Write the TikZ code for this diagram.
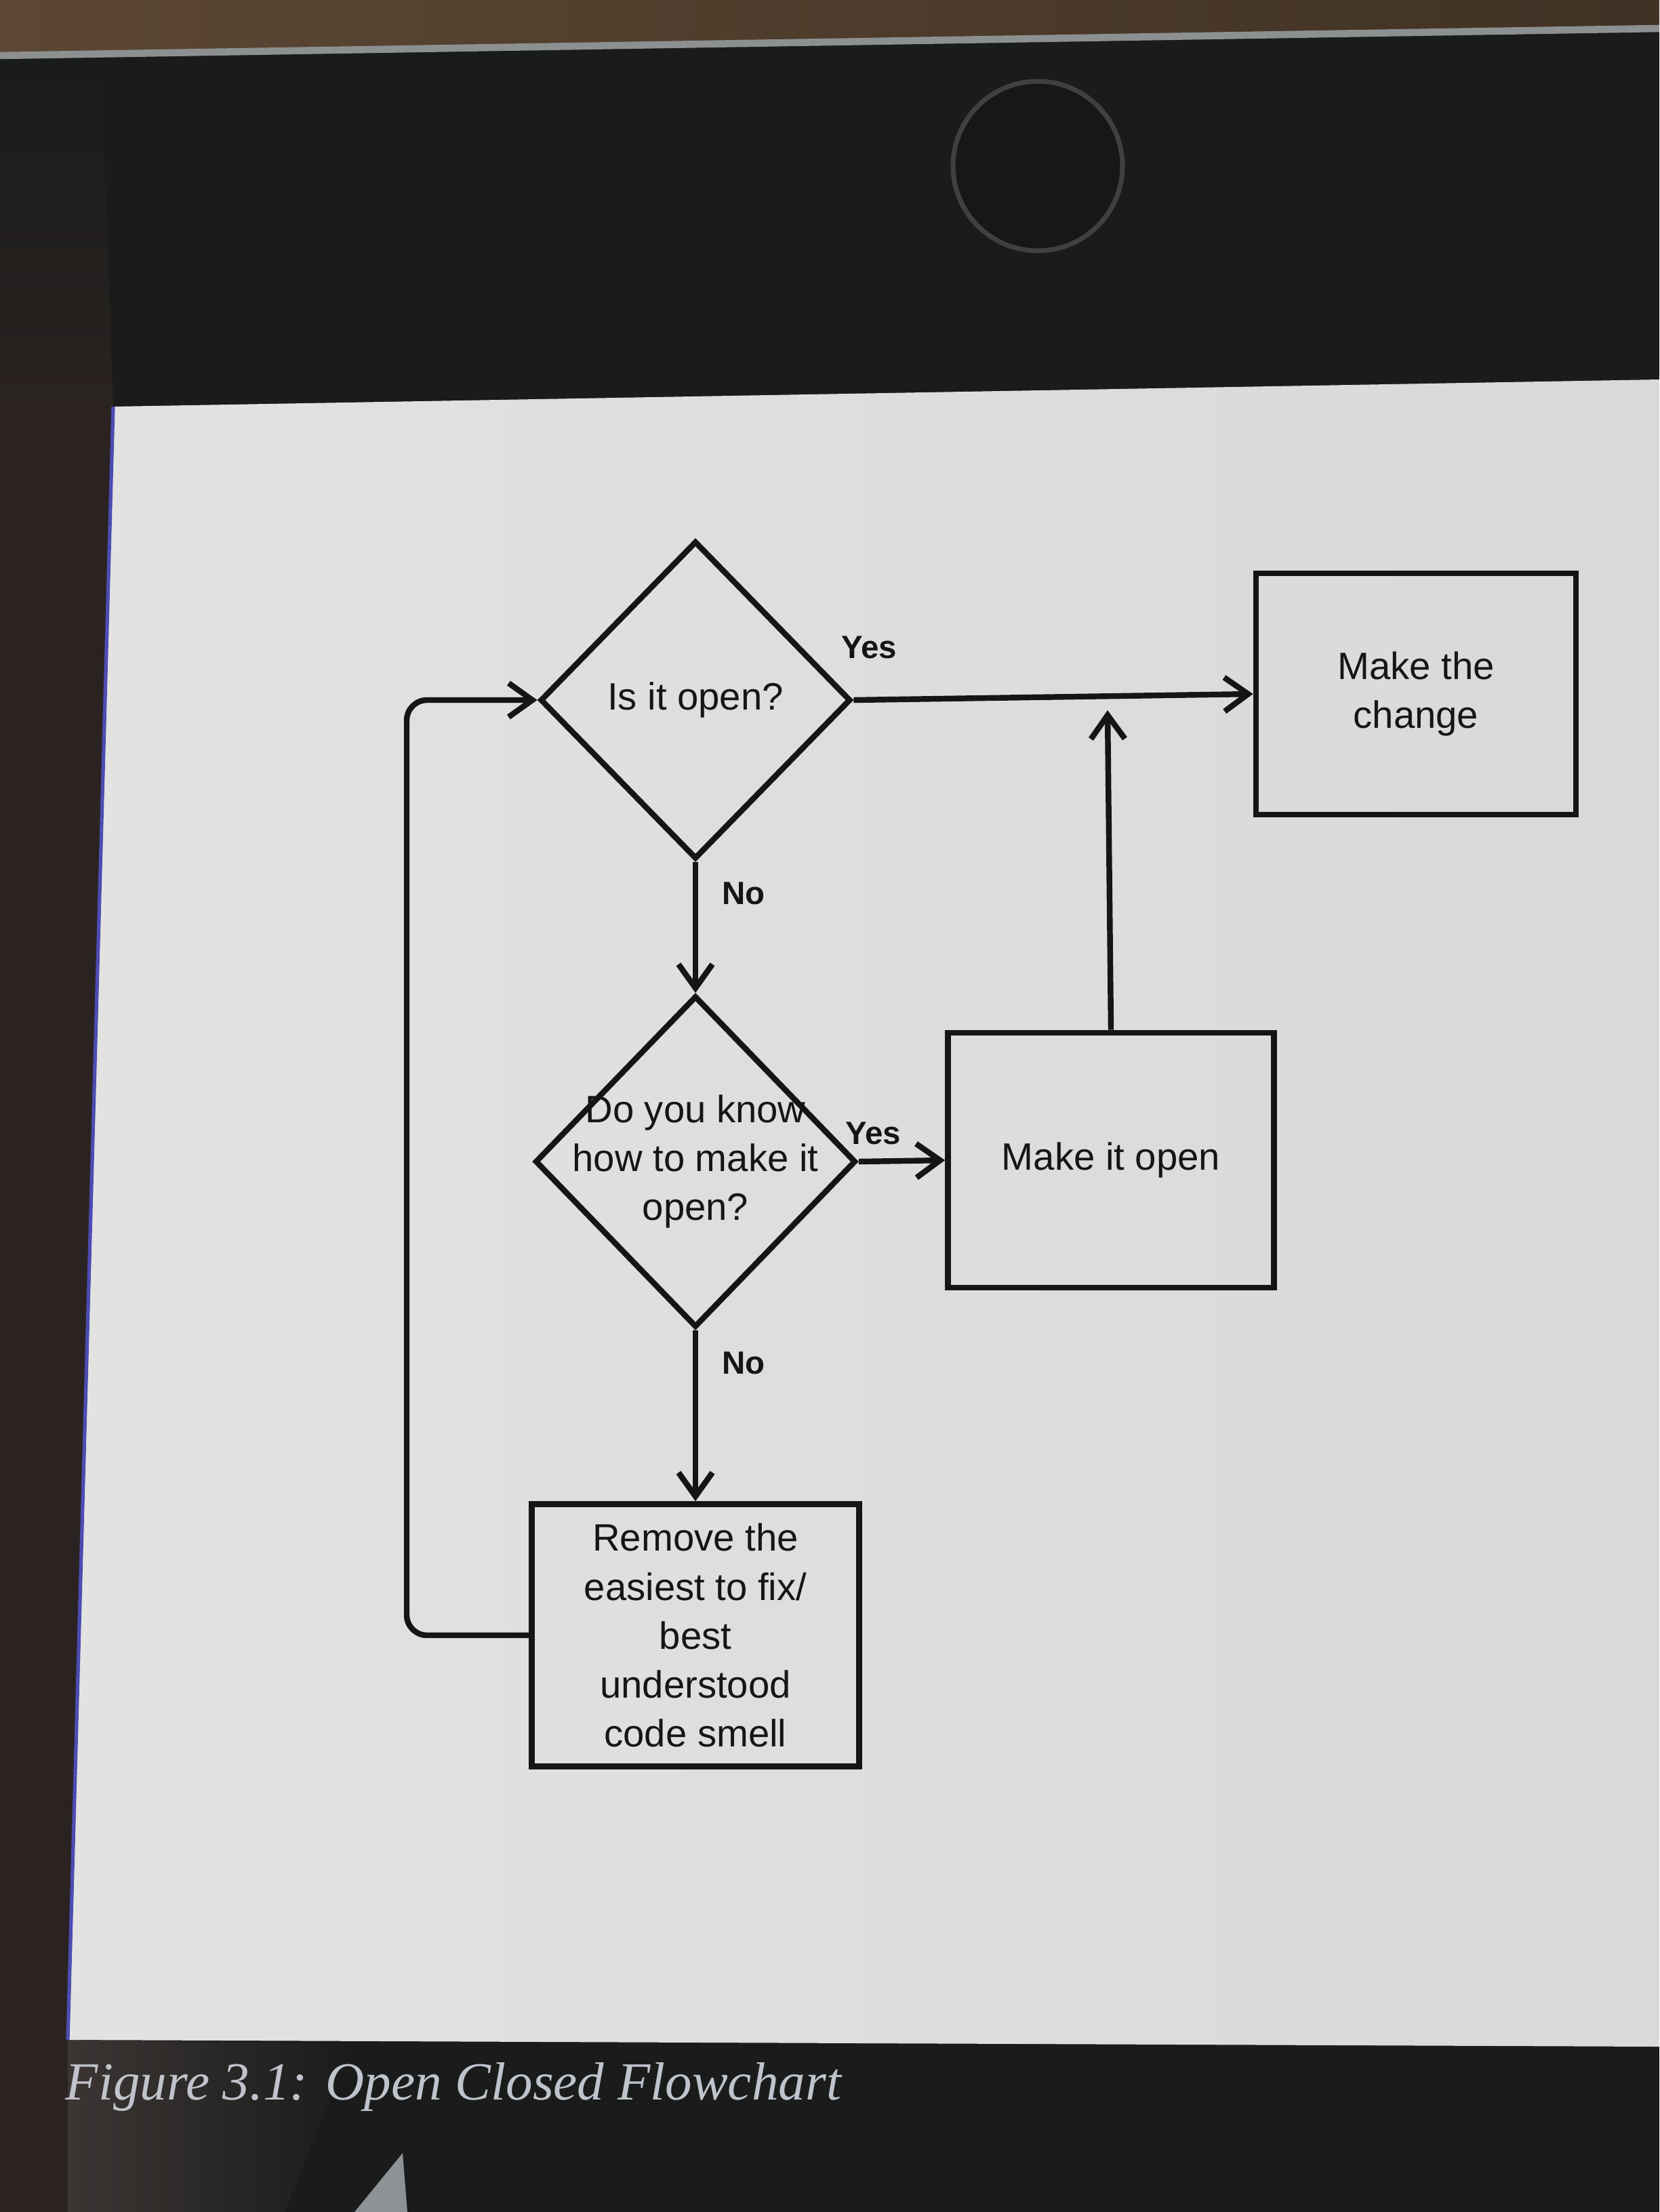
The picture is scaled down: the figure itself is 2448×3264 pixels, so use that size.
\documentclass[tikz,border=0pt]{standalone}
\usepackage{fontspec}
\setmainfont{Liberation Serif}
\setsansfont{Liberation Sans}
\usepackage{tikz}
\usetikzlibrary{arrows.meta}
\usetikzlibrary{shapes.geometric}
\usetikzlibrary{positioning}

\definecolor{bezel}{HTML}{1A1C1B}
\definecolor{wood}{HTML}{5C4734}
\definecolor{rim}{HTML}{8C9090}
\definecolor{side}{HTML}{2A2321}
\definecolor{panelL}{HTML}{E2E3E1}
\definecolor{panelR}{HTML}{D9DAD8}
\definecolor{ink}{HTML}{151515}
\definecolor{captext}{HTML}{C0C3CB}
\definecolor{glare}{HTML}{8E9196}

\begin{document}
\begin{tikzpicture}[
	x=0.01cm, y=-0.01cm,
  > = {Straight Barb[length=3.5mm,width=5mm]},
  every node/.style = {font=\sffamily\fontsize{16}{20.5}\selectfont, text=ink},
  flow/.style = {draw=ink, line width=2.4pt},
  decision/.style = {flow, diamond, aspect=1, inner sep=0pt, align=center},
  process/.style = {flow, rectangle, inner sep=0pt, align=center},
  lbl/.style = {font=\sffamily\bfseries\fontsize{13.5}{16}\selectfont},
  caption/.style = {font=\rmfamily\itshape\fontsize{22.5}{28}\selectfont, text=captext}
  ]
	\useasboundingbox (0,0) rectangle (2448,3264);

	% screen and its surroundings
	\fill[bezel] (0,0) rectangle (2448,3264);
	\shade[left color=wood, right color=wood!70!black] (0,0) -- (2448,0) -- (2448,40) -- (0,80) -- cycle;
	\draw[rim, line width=3pt] (0,82) -- (2448,42);
	\shade[top color=bezel, bottom color=side] (0,110) -- (150,110) -- (167,600) -- (0,600) -- cycle;
	\fill[side] (0,600) -- (167,600) -- (100,3264) -- (0,3264) -- cycle;
	\shade[left color=side!80!gray, right color=bezel] (100,3010) -- (520,3015) -- (420,3264) -- (100,3264) -- cycle;
	\filldraw[fill=bezel!85!black, draw=black!75, line width=2pt] (1531,245) circle (125);
	\shade[left color=panelL, right color=panelR] (167,600) -- (2448,560) -- (2448,3020) -- (100,3010) -- cycle;
	\draw[blue!40!gray, line width=1.5pt] (167,600) -- (100,3010);
	\fill[glare] (523,3264) -- (594,3177) -- (601,3264) -- cycle;

	\node[caption, anchor=base west, inner sep=0pt] (cap) at (96,3098) {Figure 3.1: Open Closed Flowchart};

	% flowchart
	\node[decision, minimum width=4.58cm, minimum height=4.69cm] (isopen) at (1026,1033) {Is it open?};
	\node[process, minimum width=4.72cm, minimum height=3.56cm] (change) at (2089,1024) {Make the\\change};
	\node[decision, minimum width=4.73cm, minimum height=4.89cm,
		label={[align=center]center:Do you know\\how to make it\\open?}] (knowhow) at (1026,1714) {};
	\node[process, minimum width=4.81cm, minimum height=3.76cm] (makeopen) at (1639,1712) {Make it open};
	\node[process, minimum width=4.83cm, minimum height=3.87cm] (remove) at (1026,2413)
		{Remove the\\easiest to fix/\\best\\understood\\code smell};

	\coordinate (merge) at (1634,1048);
	\coordinate (loop) at (600,1033);

	\node[lbl] (yes1) at (1282,955) {Yes};
	\node[lbl] (no1) at (1097,1318) {No};
	\node[lbl] (yes2) at (1288,1672) {Yes};
	\node[lbl] (no2) at (1097,2011) {No};

	\draw[flow,->] (isopen.east) -- (change.west);
	\draw[flow,->] (isopen.south) -- (knowhow.north);
	\draw[flow,->] (knowhow.east) -- (makeopen.west);
	\draw[flow,->] (knowhow.south) -- (remove.north);
	\draw[flow,->] (makeopen.north) -- (merge);
	\draw[flow,->,rounded corners=0.3cm] (remove.west) -| (loop) -- (isopen.west);

\end{tikzpicture}
\end{document}
